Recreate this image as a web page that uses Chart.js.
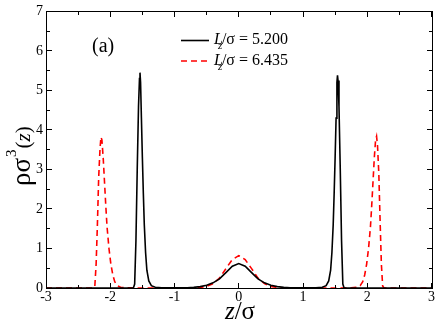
<!DOCTYPE html>
<html>
<head>
<meta charset="utf-8">
<script src="https://cdn.jsdelivr.net/npm/chart.js@4/dist/chart.umd.min.js"></script>
<style>
html,body{margin:0;padding:0;background:#fff;}
#wrap{width:436px;height:324px;position:relative;overflow:hidden;}
#wrap canvas{position:absolute;left:0;top:0;}
.fr{position:absolute;background:#000;pointer-events:none;}
</style>
</head>
<body>
<div id="wrap"><canvas id="c" width="436" height="324"></canvas></div>
<script>
// Series 1: L_z/sigma = 5.200 (black solid)
const zA = [-3, -1.70, -1.64, -1.62, -1.60, -1.58, -1.56, -1.545, -1.537, -1.528, -1.515, -1.50, -1.485, -1.47, -1.45, -1.43, -1.40, -1.36, -1.30, -1.20, -1.0,
  -0.8, -0.7, -0.6, -0.5, -0.4, -0.3, -0.2, -0.1, 0, 0.1, 0.2, 0.3, 0.4, 0.5, 0.6, 0.7, 0.8,
  1.0, 1.20, 1.30, 1.36, 1.40, 1.43, 1.45, 1.47, 1.485, 1.50, 1.515, 1.528, 1.537, 1.545, 1.56, 1.58, 1.60, 1.62, 1.64, 1.70, 3];
const rhoA = [0, 0, 0, 0.1, 1.2, 3.0, 4.6, 5.3, 5.45, 5.2, 4.3, 3.3, 2.4, 1.6, 0.9, 0.45, 0.18, 0.06, 0.02, 0.005, 0.002,
  0.006, 0.015, 0.035, 0.07, 0.13, 0.23, 0.39, 0.55, 0.62, 0.55, 0.39, 0.23, 0.13, 0.07, 0.035, 0.015, 0.006,
  0.002, 0.005, 0.02, 0.06, 0.18, 0.45, 0.9, 1.6, 2.4, 3.3, 4.3, 5.2, 5.38, 5.25, 4.6, 3.0, 1.2, 0.1, 0, 0, 0];

// Series 2: L_z/sigma = 6.435 (red dashed)
const zB = [-3, -2.26, -2.24, -2.22, -2.20, -2.18, -2.16, -2.145, -2.13, -2.11, -2.09, -2.07, -2.05, -2.02, -1.99, -1.96, -1.93, -1.89, -1.84, -1.75, -1.5,
  -0.7, -0.6, -0.5, -0.4, -0.3, -0.2, -0.1, 0, 0.1, 0.2, 0.3, 0.4, 0.5, 0.6, 0.7,
  1.5, 1.75, 1.84, 1.89, 1.93, 1.96, 1.99, 2.02, 2.05, 2.07, 2.09, 2.11, 2.13, 2.145, 2.16, 2.18, 2.20, 2.22, 2.24, 2.26, 3];
const rhoB = [0, 0, 0.05, 0.6, 1.6, 2.8, 3.5, 3.82, 3.75, 3.3, 2.7, 2.1, 1.55, 1.0, 0.6, 0.33, 0.16, 0.06, 0.02, 0.005, 0,
  0.004, 0.012, 0.04, 0.11, 0.25, 0.49, 0.72, 0.82, 0.72, 0.49, 0.25, 0.11, 0.04, 0.012, 0.004,
  0, 0.005, 0.02, 0.06, 0.16, 0.33, 0.6, 1.0, 1.55, 2.1, 2.7, 3.3, 3.75, 3.84, 3.6, 2.9, 1.7, 0.6, 0.05, 0, 0];

// ticks: labelled majors and unlabelled minors
const xTicks = [-3, -2, -1, 0, 1, 2, 3];
const xMinor = [-2.5, -1.5, -0.5, 0.5, 1.5, 2.5];
const yTicks = [0, 1, 2, 3, 4, 5, 6, 7];
const yMinor = [0.5, 1.5, 2.5, 3.5, 4.5, 5.5, 6.5];
const seriesNames = ['5.200', '6.435'];

const SERIF = '"Liberation Serif", "DejaVu Serif", serif';

// frame + inward tick rectangles, positions taken from the chart's scales
function frameRects(chart) {
  const a = chart.chartArea;
  const xs = chart.scales.x, ys = chart.scales.y;
  const L0 = Math.round(a.left), R0 = Math.round(a.right), T0 = Math.round(a.top), B0 = Math.round(a.bottom);
  const rects = [
    [L0, T0, R0 - L0 + 1, 1], [L0, B0, R0 - L0 + 1, 1],
    [L0, T0, 1, B0 - T0 + 1], [R0, T0, 1, B0 - T0 + 1]
  ];
  const xt = (vals, len) => vals.forEach(v => {
    const px = Math.round(xs.getPixelForValue(v) - 0.5);
    rects.push([px, B0 - len, 1, len], [px, T0 + 1, 1, len]);
  });
  const yt = (vals, len) => vals.forEach(v => {
    const py = Math.round(ys.getPixelForValue(v) - 0.5);
    rects.push([L0 + 1, py, len, 1], [R0 - len, py, len, 1]);
  });
  xt(xTicks, 5); xt(xMinor, 3);
  yt(yTicks, 5); yt(yMinor, 3);
  return rects;
}

const labels = {
  id: 'labels',
  afterDraw(chart) {
    const ctx = chart.ctx;
    ctx.save();
    ctx.setLineDash([]);
    ctx.fillStyle = '#000';
    ctx.textBaseline = 'alphabetic';
    ctx.textAlign = 'left';
    ctx.font = '20px ' + SERIF;
    ctx.fillText('(a)', 92, 52);

    const rows = [{y: 40.5, color: '#000', dash: [], name: seriesNames[0], base: 44},
                  {y: 61, color: '#ff0000', dash: [6, 4], name: seriesNames[1], base: 64.5}];
    rows.forEach(r => {
      ctx.save();
      ctx.strokeStyle = r.color;
      ctx.lineWidth = 1.6;
      ctx.setLineDash(r.dash);
      ctx.beginPath();
      ctx.moveTo(181, r.y); ctx.lineTo(209, r.y);
      ctx.stroke();
      ctx.restore();
      const x = 214;
      ctx.font = 'italic 16px ' + SERIF;
      ctx.fillText('L', x, r.base);
      const wL = ctx.measureText('L').width;
      ctx.font = 'italic 11px ' + SERIF;
      ctx.fillText('z', x + wL - 5, r.base + 5);
      ctx.font = '16px ' + SERIF;
      ctx.fillText('/\u03c3 = ' + r.name, x + wL - 1, r.base);
    });

    ctx.font = 'italic 25px ' + SERIF;
    const wz = ctx.measureText('z').width;
    ctx.font = '25px ' + SERIF;
    const ws = ctx.measureText('/\u03c3').width;
    const sx = 240 - (wz + ws) / 2;
    ctx.font = 'italic 25px ' + SERIF;
    ctx.fillText('z', sx, 319);
    ctx.font = '25px ' + SERIF;
    ctx.fillText('/\u03c3', sx + wz, 319);

    ctx.save();
    ctx.translate(30, 186);
    ctx.rotate(-Math.PI / 2);
    ctx.font = '27px ' + SERIF;
    ctx.fillText('\u03c1\u03c3', 0, 0);
    let off = ctx.measureText('\u03c1\u03c3').width;
    ctx.font = '15px ' + SERIF;
    ctx.fillText('3', off + 1, -14);
    off += ctx.measureText('3').width + 2;
    ctx.font = '21px ' + SERIF;
    ctx.fillText('(', off, 0);
    off += ctx.measureText('(').width;
    ctx.font = 'italic 21px ' + SERIF;
    ctx.fillText('z', off, 0);
    off += ctx.measureText('z').width;
    ctx.font = '21px ' + SERIF;
    ctx.fillText(')', off, 0);
    ctx.restore();

    ctx.fillStyle = '#000';
    frameRects(chart).forEach(r => ctx.fillRect(r[0], r[1], r[2], r[3]));
    ctx.restore();
  }
};

const mk = (zs, rs) => zs.map((z, i) => ({x: z, y: rs[i]}));

const chart = new Chart(document.getElementById('c'), {
  type: 'line',
  data: {
    datasets: [
      {label: 'Lz/σ = ' + seriesNames[0], data: mk(zA, rhoA), borderColor: '#000', borderWidth: 1.6,
       pointRadius: 0, tension: 0, fill: false},
      {label: 'Lz/σ = ' + seriesNames[1], data: mk(zB, rhoB), borderColor: '#ff0000', borderWidth: 1.6,
       borderDash: [6, 4], pointRadius: 0, tension: 0, fill: false}
    ]
  },
  options: {
    responsive: false,
    animation: false,
    devicePixelRatio: 1,
    layout: {padding: {left: 0, right: 3, top: -6, bottom: 0}},
    plugins: {legend: {display: false}, tooltip: {enabled: false}},
    scales: {
      x: {
        type: 'linear', min: -3, max: 3,
        afterBuildTicks: s => { s.ticks = xTicks.map(v => ({value: v})); },
        afterFit: s => { s.height = 36; },
        grid: {display: false, drawTicks: false},
        border: {display: false},
        ticks: {color: '#000', font: {family: SERIF, size: 14}, padding: 1, maxRotation: 0, autoSkip: false}
      },
      y: {
        type: 'linear', min: 0, max: 7,
        afterBuildTicks: s => { s.ticks = yTicks.map(v => ({value: v})); },
        afterFit: s => { s.width = 46; },
        grid: {display: false, drawTicks: false},
        border: {display: false},
        ticks: {color: '#000', font: {family: SERIF, size: 14}, padding: 3, autoSkip: false}
      }
    }
  },
  plugins: [labels]
});

// same frame/ticks as page elements over the canvas (identical pixels)
(function overlay() {
  const wrap = document.getElementById('wrap');
  frameRects(chart).forEach(r => {
    const d = document.createElement('div');
    d.className = 'fr';
    d.style.left = r[0] + 'px';
    d.style.top = r[1] + 'px';
    d.style.width = r[2] + 'px';
    d.style.height = r[3] + 'px';
    wrap.appendChild(d);
  });
})();
</script>
</body>
</html>
